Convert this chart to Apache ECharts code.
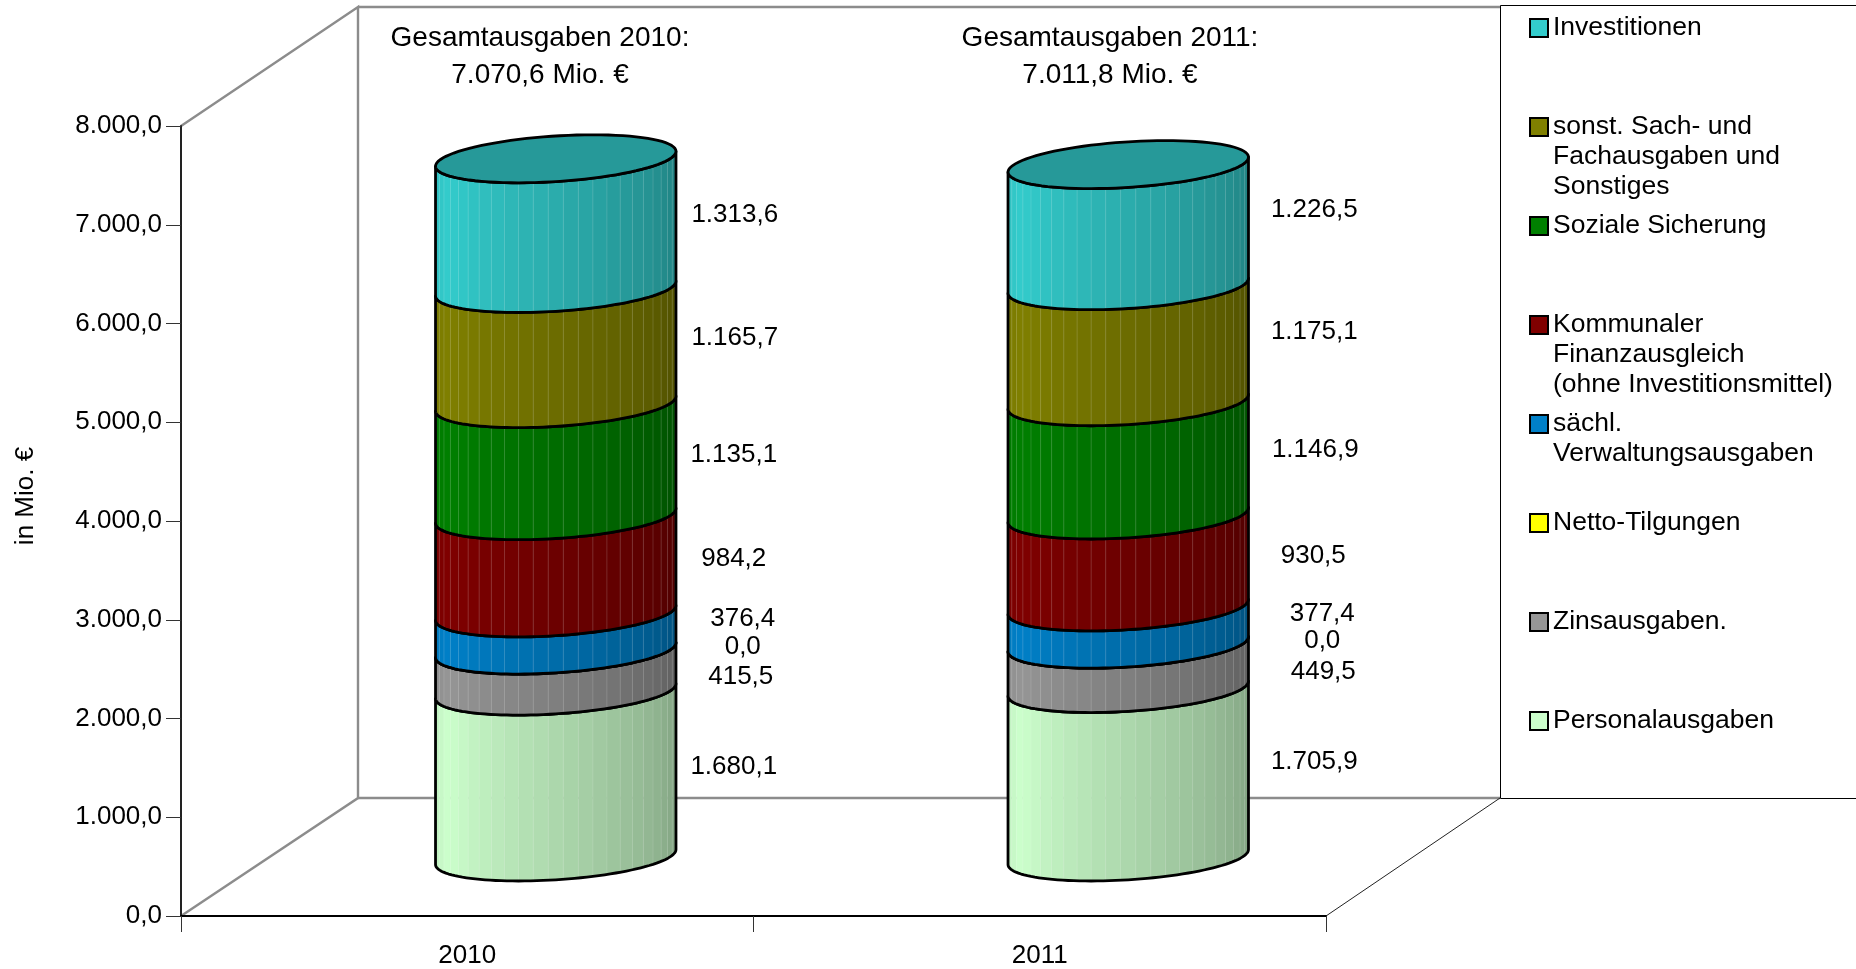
<!DOCTYPE html>
<html lang="de">
<head>
<meta charset="UTF-8">
<title>Gesamtausgaben 2010 und 2011</title>
<script src="https://cdn.jsdelivr.net/npm/echarts@6/dist/echarts.min.js"></script>
<style>
  html, body { margin: 0; padding: 0; background: #fff; }
  #chart { width: 1856px; height: 969px; }
</style>
</head>
<body>
<div id="chart"></div>
<script>
// Daten
const years = ['2010', '2011'];
const totals = ['7.070,6', '7.011,8'];
const yTickLabels = ['0,0', '1.000,0', '2.000,0', '3.000,0', '4.000,0', '5.000,0', '6.000,0', '7.000,0', '8.000,0'];

const personalausgaben = [1680.1, 1705.9];
const zinsausgaben = [415.5, 449.5];
const nettoTilgungen = [0.0, 0.0];
const saechlVerwaltung = [376.4, 377.4];
const kommunalerAusgleich = [984.2, 930.5];
const sozialeSicherung = [1135.1, 1146.9];
const sonstSachFach = [1165.7, 1175.1];
const investitionen = [1313.6, 1226.5];

const EURO = '\u20AC';

// Reihenfolge von unten nach oben
const stackOrder = [
  { name: 'Personalausgaben', values: personalausgaben, color: [204, 255, 204], nudge: [[178, -7], [186, -11]] },
  { name: 'Zinsausgaben.', values: zinsausgaben, color: [150, 150, 150], nudge: [[185, 6], [195, 5]] },
  { name: 'Netto-Tilgungen', values: nettoTilgungen, color: [255, 255, 0], nudge: [[187, -3], [194, -3]] },
  { name: 's\u00E4chl.\nVerwaltungsausgaben', values: saechlVerwaltung, color: [0, 128, 200], nudge: [[187, -13], [194, -12]] },
  { name: 'Kommunaler\nFinanzausgleich\n(ohne Investitionsmittel)', values: kommunalerAusgleich, color: [128, 0, 0], nudge: [[178, -5], [185, -5]] },
  { name: 'Soziale Sicherung', values: sozialeSicherung, color: [0, 128, 0], nudge: [[178, -5], [187, -9]] },
  { name: 'sonst. Sach- und\nFachausgaben und\nSonstiges', values: sonstSachFach, color: [128, 128, 0], nudge: [[179, -8], [186, -12]] },
  { name: 'Investitionen', values: investitionen, color: [51, 204, 204], nudge: [[179, -9], [186, -15]] }
];

// Tiefe der 3D-Darstellung
const DEPTH_X = 177;
const DEPTH_Y = 118;
const TILT = 7.5;
const MINOR = 22.8;
const FACETS = 25;
const FONT = '"Liberation Sans", Arial, sans-serif';

function shade(rgb, f) {
  return 'rgb(' + rgb.map(c => Math.round(c * f)).join(',') + ')';
}

function facetBrightness(u) {
  if (u < 0.15) return 0.92 + 0.08 * (u / 0.15);
  return 1 - (u - 0.15) / 0.85 * 0.38;
}

function fmt(v) {
  return v.toLocaleString('de-DE', { minimumFractionDigits: 1, maximumFractionDigits: 1 });
}

function makeRenderItem(entry, isTop) {
  return function (params, api) {
    const idx = api.value(0);
    const base = api.coord([idx, api.value(1)]);
    const head = api.coord([idx, api.value(2)]);
    const r = api.size([1, 0])[0] * 0.21;
    const cx = base[0] + DEPTH_X / 2;
    const yBottom = base[1] - DEPTH_Y / 2;
    const yTop = head[1] - DEPTH_Y / 2;
    const arcPoint = (t, yc) => [cx + r * Math.cos(t), yc - TILT * Math.cos(t) + MINOR * Math.sin(t)];
    const children = [];

    if (yBottom - yTop > 0.5) {
      // Facetten von links nach rechts
      for (let i = 0; i < FACETS; i++) {
        const t0 = Math.PI * (1 - i / FACETS);
        const t1 = Math.PI * (1 - (i + 1) / FACETS);
        const col = shade(entry.color, facetBrightness((i + 0.5) / FACETS));
        children.push({
          type: 'polygon',
          shape: { points: [arcPoint(t0, yTop), arcPoint(t1, yTop), arcPoint(t1, yBottom), arcPoint(t0, yBottom)] },
          style: { fill: col, stroke: col, lineWidth: 0.5 }
        });
      }
      for (let i = 1; i < FACETS; i++) {
        const t = Math.PI * (1 - i / FACETS);
        const a = arcPoint(t, yTop);
        const b = arcPoint(t, yBottom);
        children.push({
          type: 'line',
          shape: { x1: a[0], y1: a[1], x2: b[0], y2: b[1] },
          style: { stroke: 'rgba(255,255,255,0.14)', lineWidth: 1 }
        });
      }
    }

    // Umriss
    const outline = [];
    for (let i = 0; i <= 60; i++) outline.push(arcPoint(Math.PI * (1 - i / 60), yBottom));
    for (let i = 0; i <= 60; i++) outline.push(arcPoint(Math.PI * (i / 60), yTop));
    children.push({
      type: 'polygon',
      shape: { points: outline },
      style: { fill: 'none', stroke: '#000', lineWidth: 2.8, lineJoin: 'round' }
    });

    // Deckel der Saeule
    if (isTop) {
      const lid = [];
      for (let i = 0; i < 90; i++) lid.push(arcPoint(2 * Math.PI * i / 90, yTop));
      children.push({
        type: 'polygon',
        shape: { points: lid },
        style: { fill: shade(entry.color, 0.75), stroke: '#000', lineWidth: 2.8 }
      });
    }

    const nudge = entry.nudge[params.dataIndex];
    children.push({
      type: 'text',
      style: {
        x: cx + nudge[0],
        y: (yBottom + yTop) / 2 + nudge[1],
        text: fmt(api.value(3)),
        fill: '#000',
        fontSize: 26,
        fontFamily: FONT,
        align: 'center',
        verticalAlign: 'middle'
      }
    });

    return { type: 'group', children };
  };
}

const running = years.map(() => 0);
const series = stackOrder.map((entry, s) => ({
  type: 'custom',
  name: entry.name,
  coordinateSystem: 'cartesian2d',
  itemStyle: { color: shade(entry.color, 1) },
  renderItem: makeRenderItem(entry, s === stackOrder.length - 1),
  encode: { x: 0, y: [1, 2] },
  clip: false,
  silent: true,
  data: entry.values.map((v, i) => {
    const from = running[i];
    running[i] += v;
    return [i, from, running[i], v];
  })
}));

// Legende: ein Eintrag je Zeile, Symbol steht auf der ersten Textzeile
const LEGEND_STEP = 99;
const LEGEND_LINE = 30;
const legendOrder = stackOrder.slice().reverse();
const legends = legendOrder.map((entry, i) => {
  const lines = entry.name.split('\n').length;
  const blockHeight = (2 * lines - 1) * LEGEND_LINE;
  return {
    data: [entry.name],
    orient: 'vertical',
    left: 1529,
    top: 28 + i * LEGEND_STEP - blockHeight / 2,
    padding: 0,
    icon: 'rect',
    itemWidth: 18,
    itemHeight: 18,
    selectedMode: false,
    itemStyle: { borderColor: '#000', borderWidth: 2 },
    textStyle: { color: '#000', fontSize: 26.5, fontFamily: FONT, lineHeight: LEGEND_LINE },
    formatter: name => '\n'.repeat(lines - 1) + name
  };
});

const gray = '#8c8c8c';
const titleStyle = { fill: '#000', fontSize: 28, fontFamily: FONT, align: 'center', verticalAlign: 'middle' };
const option = {
  animation: false,
  backgroundColor: '#fff',
  grid: { left: 181, right: 530, top: 126, bottom: 53, containLabel: false, outerBoundsMode: 'none' },
  xAxis: {
    type: 'category',
    data: years,
    axisLine: { lineStyle: { color: '#000', width: 2 } },
    axisTick: { show: true, length: 16, alignWithLabel: false, lineStyle: { color: '#333', width: 1 } },
    axisLabel: { color: '#000', fontSize: 26, fontFamily: FONT, margin: 27 }
  },
  yAxis: {
    type: 'value',
    min: 0,
    max: 8000,
    interval: 1000,
    name: 'in Mio. ' + EURO,
    nameLocation: 'middle',
    nameGap: 142,
    nameRotate: 90,
    nameTextStyle: { color: '#000', fontSize: 26, fontFamily: FONT, padding: [0, 0, 0, 50] },
    axisLine: { show: true, lineStyle: { color: '#222', width: 2 } },
    axisTick: { show: true, length: 15, lineStyle: { color: '#333', width: 1 } },
    axisLabel: {
      color: '#000',
      fontSize: 26,
      fontFamily: FONT,
      margin: 19,
      padding: [7, 0, 0, 0],
      formatter: v => yTickLabels[v / 1000]
    },
    splitLine: { show: false }
  },
  legend: legends,
  graphic: [
    // Rueckwand und Boden
    { type: 'polyline', z: -1, shape: { points: [[181, 126], [358, 7], [358, 798], [181, 916]] }, style: { fill: 'none', stroke: gray, lineWidth: 2.4 } },
    { type: 'line', z: -1, shape: { x1: 358, y1: 7, x2: 1500, y2: 7 }, style: { stroke: gray, lineWidth: 2.4 } },
    { type: 'line', z: -1, shape: { x1: 358, y1: 798, x2: 1500, y2: 798 }, style: { stroke: gray, lineWidth: 2.4 } },
    { type: 'line', z: -1, shape: { x1: 1326, y1: 916, x2: 1500, y2: 798 }, style: { stroke: '#222', lineWidth: 1 } },
    // Legendenrahmen
    { type: 'rect', z: -1, shape: { x: 1500.5, y: 5.5, width: 400, height: 793 }, style: { fill: '#fff', stroke: '#000', lineWidth: 1 } },
    // Gesamtsummen
    { type: 'text', z: 5, style: Object.assign({ x: 540, y: 38.5, text: 'Gesamtausgaben ' + years[0] + ':' }, titleStyle) },
    { type: 'text', z: 5, style: Object.assign({ x: 540, y: 75, text: totals[0] + ' Mio. ' + EURO }, titleStyle) },
    { type: 'text', z: 5, style: Object.assign({ x: 1110, y: 38.5, text: 'Gesamtausgaben ' + years[1] + ':' }, titleStyle) },
    { type: 'text', z: 5, style: Object.assign({ x: 1110, y: 75, text: totals[1] + ' Mio. ' + EURO }, titleStyle) }
  ],
  series
};

const chart = echarts.init(document.getElementById('chart'));
chart.setOption(option);
</script>
</body>
</html>
